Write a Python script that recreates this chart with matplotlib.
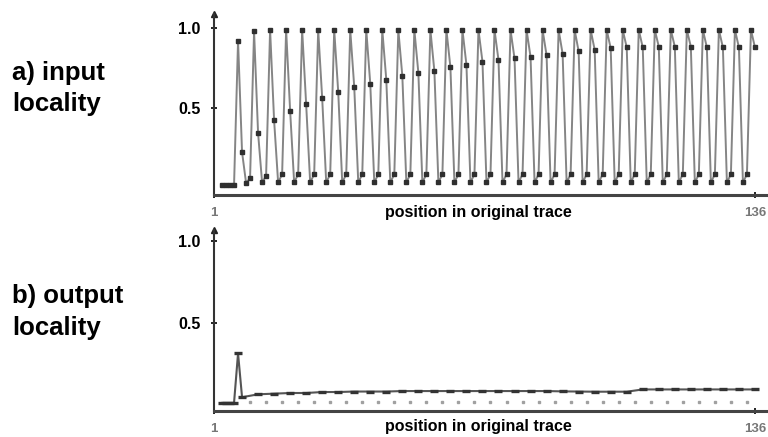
import matplotlib
matplotlib.use("Agg")
import matplotlib.pyplot as plt

plt.rcParams['font.family'] = ['Liberation Sans', 'DejaVu Sans']

# a) input locality, one value per 4-step cycle
in_start = [0.01, 0.01, 0.01, 0.01]          # positions 3..6
in_peak = [0.92, 0.98, 0.99, 0.99, 0.99, 0.99, 0.99, 0.99, 0.99, 0.99, 0.99,
           0.99, 0.99, 0.99, 0.99, 0.99, 0.99, 0.99, 0.99, 0.99, 0.99, 0.99,
           0.99, 0.99, 0.99, 0.99, 0.99, 0.99, 0.99, 0.99, 0.99, 0.99, 0.99]
in_mid = [0.22, 0.34, 0.42, 0.48, 0.52, 0.56, 0.60, 0.63, 0.65, 0.675, 0.70,
          0.72, 0.73, 0.755, 0.77, 0.79, 0.80, 0.81, 0.82, 0.83, 0.84, 0.855,
          0.865, 0.875, 0.88, 0.88, 0.885, 0.885, 0.885, 0.88, 0.88, 0.88, 0.88]
in_low_a = [0.027, 0.03, 0.03, 0.03, 0.03, 0.03, 0.03, 0.03, 0.03, 0.03, 0.03,
            0.03, 0.03, 0.03, 0.03, 0.03, 0.03, 0.03, 0.03, 0.03, 0.03, 0.03,
            0.03, 0.03, 0.03, 0.03, 0.03, 0.03, 0.03, 0.03, 0.03, 0.03]
in_low_b = [0.055, 0.07, 0.08, 0.08, 0.08, 0.08, 0.08, 0.08, 0.08, 0.08, 0.08,
            0.08, 0.08, 0.08, 0.08, 0.08, 0.08, 0.08, 0.08, 0.08, 0.08, 0.08,
            0.08, 0.08, 0.08, 0.08, 0.08, 0.08, 0.08, 0.08, 0.08, 0.08]

# b) output locality
out_start = [0.005, 0.005, 0.005, 0.005, 0.31]   # positions 3..7
out_upper = [0.04, 0.058, 0.062, 0.066, 0.066, 0.072, 0.072, 0.075, 0.075,
             0.075, 0.078, 0.078, 0.078, 0.078, 0.078, 0.078, 0.078, 0.078,
             0.078, 0.078, 0.076, 0.075, 0.074, 0.074, 0.074, 0.088, 0.088,
             0.088, 0.088, 0.088, 0.088, 0.088, 0.088]   # positions 8, 12, ..., 136
out_lower = [0.008, 0.008, 0.008, 0.008, 0.008, 0.008, 0.008, 0.008, 0.008,
             0.008, 0.008, 0.008, 0.008, 0.008, 0.008, 0.008, 0.008, 0.008,
             0.008, 0.008, 0.008, 0.008, 0.008, 0.008, 0.008, 0.008, 0.008,
             0.008, 0.008, 0.008, 0.008, 0.008]  # positions 10, 14, ...

first_pos = 3
n_positions = 136

# interleave the input series
in_x = list(range(first_pos, first_pos + len(in_start)))
in_y = list(in_start)
p = first_pos + len(in_start)
for k in range(len(in_peak)):
    in_x += [p, p + 1]
    in_y += [in_peak[k], in_mid[k]]
    if k < len(in_low_a):
        in_x += [p + 2, p + 3]
        in_y += [in_low_a[k], in_low_b[k]]
    p += 4

out_x = list(range(first_pos, first_pos + len(out_start)))
out_y = list(out_start)
for k, v in enumerate(out_upper):
    out_x.append(8 + 4 * k)
    out_y.append(v)
low_x = [10 + 4 * k for k in range(len(out_lower))]

fig = plt.figure(figsize=(7.68, 4.37), dpi=100)
ax1 = fig.add_axes([214 / 768, 1 - 195 / 437, 1 - 214 / 768, (195 - 14) / 437])
ax2 = fig.add_axes([214 / 768, 1 - 410.7 / 437, 1 - 214 / 768, (410.7 - 230) / 437])

ax1.plot(in_x, in_y, color='#858585', lw=1.4)
ax1.plot(in_x, in_y, ls='none', marker='s', ms=2.5, color='#2f2f2f')
ax1.set_ylim(-0.05, 1.09)

ax2.plot(out_x, out_y, color='#555555', lw=1.5)
ax2.plot(out_x, out_y, ls='none', marker='_', ms=5.5, mew=2.4, color='#333333')
ax2.plot(low_x, out_lower, ls='none', marker='s', ms=1.8, color='#a0a0a0')
ax2.set_ylim(-0.043, 1.07)

for ax in (ax1, ax2):
    ax.set_xlim(1, 1 + (768 - 214) / 4.007)
    for s in ('top', 'right'):
        ax.spines[s].set_visible(False)
    ax.spines['bottom'].set_linewidth(2.2)
    ax.spines['bottom'].set_color('#444444')
    ax.spines['left'].set_linewidth(1.5)
    ax.spines['left'].set_color('#333333')
    ax.set_yticks([0.5, 1.0])
    ax.set_yticklabels(['0.5', '1.0'], fontsize=11.5, fontweight='bold')
    ax.tick_params(axis='y', direction='inout', length=5, width=1.2, pad=7)
    ax.set_xticks([1, n_positions])
    ax.set_xticklabels(['1', str(n_positions)], fontsize=9.5,
                       fontweight='bold', color='#777777')
    ax.tick_params(axis='x', direction='inout', length=4, width=1.2, pad=7)
    # arrow head at top of the y axis
    ax.plot(0, 1, marker='^', ms=5, color='#222222',
            transform=ax.transAxes, clip_on=False)

for ypix in (212, 427):
    fig.text(478 / 768, 1 - ypix / 437, 'position in original trace',
             fontsize=11.5, fontweight='bold', ha='center', va='center')

fig.text(12 / 768, 1 - 73 / 437, 'a) input', fontsize=18.5, fontweight='bold',
         va='center', ha='left')
fig.text(12 / 768, 1 - 104 / 437, 'locality', fontsize=18.5, fontweight='bold',
         va='center', ha='left')
fig.text(12 / 768, 1 - 296 / 437, 'b) output', fontsize=18.5, fontweight='bold',
         va='center', ha='left')
fig.text(12 / 768, 1 - 328 / 437, 'locality', fontsize=18.5, fontweight='bold',
         va='center', ha='left')

fig.savefig('out.png', dpi=100)
